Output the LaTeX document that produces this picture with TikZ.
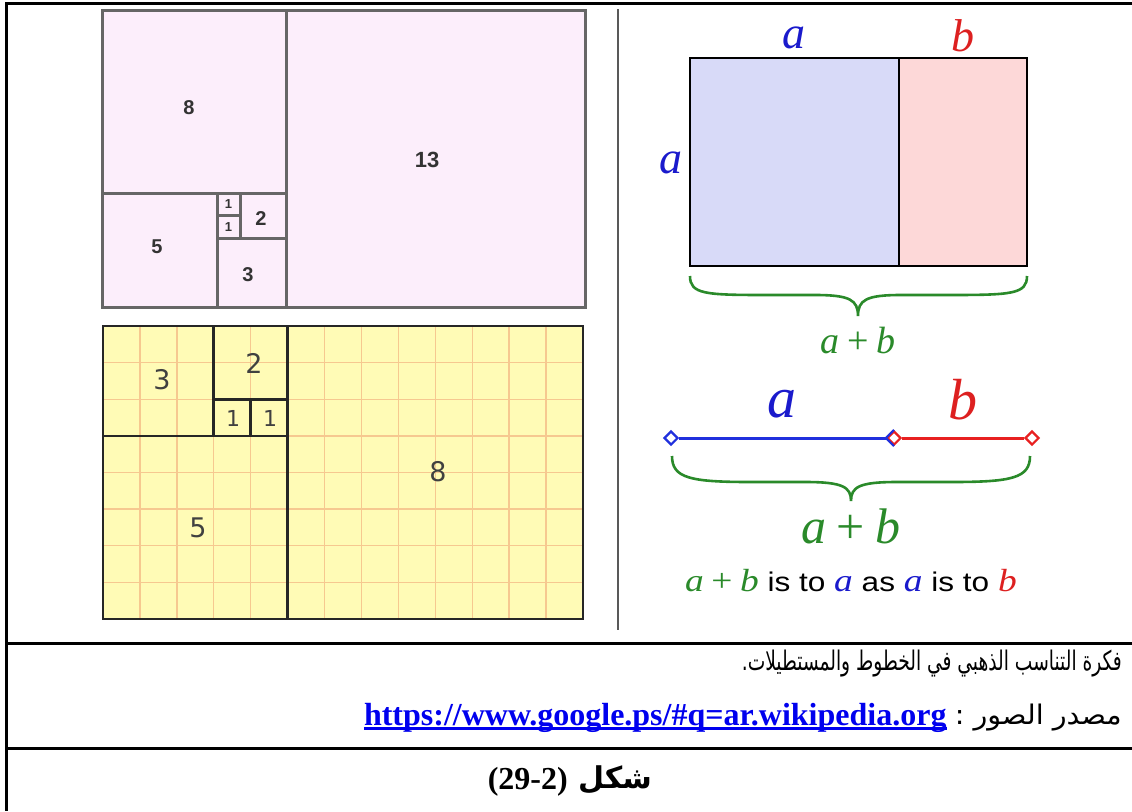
\documentclass[tikz,border=0pt]{standalone}
\usepackage{fontspec}
\setmainfont{Liberation Serif}
\setsansfont{Liberation Sans}
\newfontfamily\arabicfont[Script=Arabic]{DejaVu Sans}
\newfontfamily\djv{DejaVu Sans}
\TeXXeTstate=1
\usetikzlibrary{shapes.geometric}
\definecolor{pinkfill}{HTML}{FCEEFB}
\definecolor{pinkline}{HTML}{666666}
\definecolor{yelfill}{HTML}{FFFBB6}
\definecolor{gridc}{HTML}{F6C890}
\definecolor{ablue}{HTML}{1A1ACC}
\definecolor{bred}{HTML}{DD2020}
\definecolor{sgreen}{HTML}{2A8A2A}
\definecolor{bluefill}{HTML}{D8DAF8}
\definecolor{redfill}{HTML}{FDD8D8}
\definecolor{linkblue}{HTML}{0000EE}
\definecolor{lineblue}{HTML}{2030DD}
\definecolor{linered}{HTML}{E82020}
\newcommand{\pl}{\hspace{0.2em}+\hspace{0.2em}}
\begin{document}
\begin{tikzpicture}[x=1pt,y=-1pt,
  frameline/.style={line width=3pt,black},
  pinkedge/.style={pinkline,line width=3pt},
  pinkdig/.style={font=\sffamily\bfseries\fontsize{20}{20}\selectfont,text=black!80,inner sep=0pt},
  pinkone/.style={font=\sffamily\bfseries\fontsize{13}{13}\selectfont,text=black!80,inner sep=0pt},
  yeledge/.style={line width=2.8pt,black!85},
  gridline/.style={gridc,line width=1.4pt},
  yeldig/.style={font=\djv\fontsize{27}{27}\selectfont,text=black!75,inner sep=0pt},
  yelone/.style={font=\djv\fontsize{22}{22}\selectfont,text=black!75,inner sep=0pt},
  varlab/.style={font=\itshape\fontsize{46}{46}\selectfont,inner sep=0pt},
  biglab/.style={font=\itshape\fontsize{58}{58}\selectfont,inner sep=0pt},
  bracepath/.style={sgreen,line width=2.6pt},
  endmark/.style={diamond,draw,fill=white,line width=2.2pt,minimum size=14pt,inner sep=0pt},
  arab/.style={font=\arabicfont\fontsize{27}{30}\selectfont,inner sep=0pt}
]
\useasboundingbox (0,0) rectangle (1132,811);
\fill[white] (0,0) rectangle (1132,811);

% table frame
\draw[frameline] (1132,3) -- (6,3) -- (6,811);
\draw[frameline] (6,643) -- (1132,643);
\draw[frameline] (6,748) -- (1132,748);
\draw[black!65,line width=2pt] (618,9) -- (618,630);

% pink Fibonacci rectangle
\fill[pinkfill] (102,10) rectangle (585,307);
\draw[pinkedge] (102,10) rectangle (585,307);
\draw[pinkedge] (286,10) -- (286,307)
  (102,193) -- (286,193)
  (217,193) -- (217,307)
  (217,238.5) -- (286,238.5)
  (240,193) -- (240,238.5)
  (217,215.7) -- (240,215.7);
\node[pinkdig] (p8) at (189,108) {8};
\node[pinkdig,font=\sffamily\bfseries\fontsize{22}{22}\selectfont] (p13) at (427,160) {13};
\node[pinkdig] (p5) at (157,247) {5};
\node[pinkdig] (p2) at (261,219) {2};
\node[pinkdig] (p3) at (248,275) {3};
\node[pinkone] (p1a) at (228.5,204.5) {1};
\node[pinkone] (p1b) at (228.5,227) {1};

% yellow Fibonacci rectangle
\fill[yelfill] (103,326) rectangle (583,619);
\foreach \i in {1,...,12} \draw[gridline] ({103+\i*36.923},326) -- ++(0,293);
\foreach \j in {1,...,7} \draw[gridline] (103,{326+\j*36.625}) -- ++(480,0);
\draw[yeledge] (103,326) rectangle (583,619);
\draw[yeledge] (287.6,326) -- (287.6,619)
  (103,435.9) -- (287.6,435.9)
  (213.8,326) -- (213.8,435.9)
  (213.8,399.25) -- (287.6,399.25)
  (250.7,399.25) -- (250.7,435.9);
\node[yeldig] (y3) at (162,380) {3};
\node[yeldig] (y2) at (254,363) {2};
\node[yelone] (y1a) at (233,418) {1};
\node[yelone] (y1b) at (270,418) {1};
\node[yeldig] (y8) at (438,472) {8};
\node[yeldig] (y5) at (198,528) {5};

% golden rectangle
\fill[bluefill] (690,58) rectangle (899,266);
\fill[redfill] (899,58) rectangle (1027,266);
\draw[line width=2.5pt] (690,58) rectangle (1027,266);
\draw[line width=2.5pt] (899,58) -- (899,266);
\node[varlab,text=ablue] (ta) at (794,38) {a};
\node[varlab,text=bred] (tb) at (963,36) {b};
\node[varlab,text=ablue] (la) at (671,163) {a};
\coordinate (b1l) at (690,276);
\coordinate (b1t) at (858,316);
\coordinate (b1r) at (1027,276);
\draw[bracepath] (b1l) .. controls (690,294) and (705,295) .. (765,295) -- (815,295)
  .. controls (850,295) and (858,300) .. (b1t)
  .. controls (858,300) and (866,295) .. (901,295) -- (950,295)
  .. controls (1012,295) and (1027,294) .. (b1r);
\node[font=\fontsize{38}{38}\selectfont,text=sgreen,inner sep=0pt] (ab1) at (858,341) {\textit{a}\pl\textit{b}};

% golden segment
\node[endmark,draw=lineblue] (dl) at (671,438) {};
\node[endmark,draw=linered] (dm) at (894,438) {};
\node[endmark,draw=linered] (dr) at (1032,438) {};
\draw[lineblue,line width=3pt] (dl) -- (dm);
\draw[linered,line width=3pt] (dm) -- (dr);
\draw[lineblue,line width=2.2pt] (dm.north) -- (dm.west) -- (dm.south);
\node[biglab,text=ablue] (sa) at (782,404) {a};
\node[biglab,text=bred] (sb) at (963,400) {b};
\coordinate (b2l) at (672,456);
\coordinate (b2t) at (851,501);
\coordinate (b2r) at (1030,456);
\draw[bracepath] (b2l) .. controls (672,478) and (690,482) .. (750,482) -- (805,482)
  .. controls (843,482) and (851,487) .. (b2t)
  .. controls (851,487) and (859,482) .. (897,482) -- (952,482)
  .. controls (1012,482) and (1030,478) .. (b2r);
\node[font=\fontsize{50}{50}\selectfont,text=sgreen,inner sep=0pt] (ab2) at (851,526) {\textit{a}\pl\textit{b}};
\node[inner sep=0pt] (ratio) at (851,581) {\scalebox{1.17}[1]{%
  {\fontsize{32}{32}\selectfont\color{sgreen}\textit{a}\pl\textit{b}}%
  {\sffamily\fontsize{27}{27}\selectfont\ is to }%
  {\fontsize{32}{32}\selectfont\color{ablue}\textit{a}}%
  {\sffamily\fontsize{27}{27}\selectfont\ as }%
  {\fontsize{32}{32}\selectfont\color{ablue}\textit{a}}%
  {\sffamily\fontsize{27}{27}\selectfont\ is to }%
  {\fontsize{32}{32}\selectfont\color{bred}\textit{b}}}};

% caption rows
\node[arab,anchor=east] (cap1) at (1122,664) {\scalebox{0.69}[1]{\beginR فكرة التناسب الذهبي في الخطوط والمستطيلات.\endR}};
\node[arab,anchor=east] (src) at (1122,718) {\scalebox{1.06}[1]{\beginR مصدر الصور :\endR}};
\node[anchor=east,inner sep=0pt,text=linkblue,font=\bfseries\fontsize{32}{32}\selectfont] (url) at ([xshift=-8pt]src.west) {https://www.google.ps/\#q=ar.wikipedia.org};
\draw[linkblue,line width=2.5pt] ([yshift=-3pt]url.base west) -- ([yshift=-3pt]url.base east);
\node[anchor=west,inner sep=0pt,font=\arabicfont\bfseries\fontsize{30}{30}\selectfont] (fig) at (578,780) {\beginR شكل\endR};
\node[anchor=east,inner sep=0pt,font=\bfseries\fontsize{32}{32}\selectfont] (fignum) at (568,782) {(29-2)};
\end{tikzpicture}
\end{document}
